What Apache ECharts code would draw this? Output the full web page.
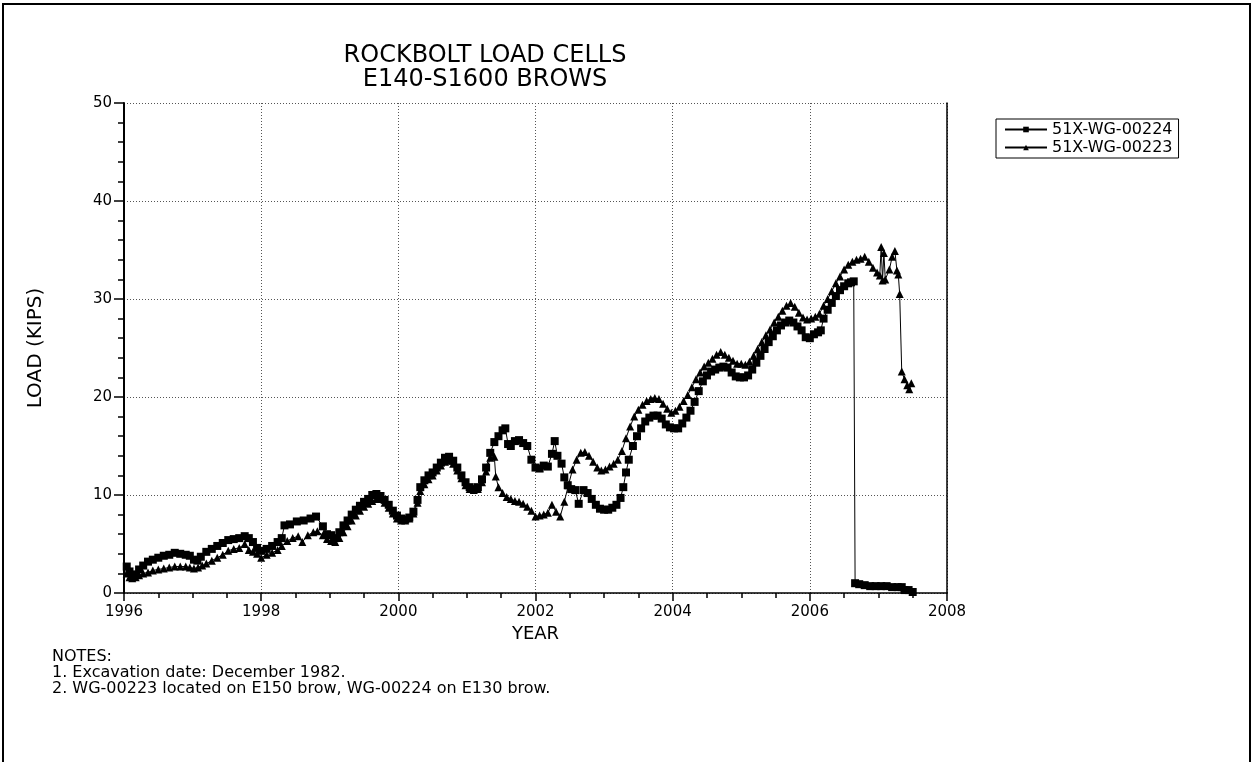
<!DOCTYPE html>
<html>
<head>
<meta charset="utf-8">
<script src="https://cdn.jsdelivr.net/npm/echarts@6/dist/echarts.min.js"></script>
<style>
  html, body { margin: 0; padding: 0; background: #fff; }
  #chart { width: 1255px; height: 762px; }
</style>
</head>
<body>
<div id="chart"></div>
<script>
// ---- Data ----
const titleLines = ["ROCKBOLT LOAD CELLS", "E140-S1600 BROWS"];
const seriesNames = ["51X-WG-00224", "51X-WG-00223"];
const xTicks = [1996, 1998, 2000, 2002, 2004, 2006, 2008];
const yTicks = [0, 10, 20, 30, 40, 50];
const notes = [
  "NOTES:",
  "1. Excavation date: December 1982.",
  "2. WG-00223 located on E150 brow, WG-00224 on E130 brow."
];

const years224 = [1996.04,1996.08,1996.12,1996.17,1996.22,1996.28,1996.35,1996.42,1996.5,1996.58,1996.66,1996.74,1996.82,1996.9,1996.96,
1997.02,1997.07,1997.12,1997.2,1997.28,1997.36,1997.44,1997.52,1997.6,1997.68,1997.76,1997.82,1997.88,1997.94,
1998.0,1998.08,1998.16,1998.24,1998.3,1998.34,1998.42,1998.52,1998.62,1998.72,1998.8,1998.9,1998.96,
1999.02,1999.08,1999.14,1999.2,1999.26,1999.32,1999.38,1999.44,1999.5,1999.56,1999.62,1999.68,1999.74,1999.8,1999.86,1999.92,1999.98,
2000.04,2000.1,2000.16,2000.22,2000.28,2000.32,2000.38,2000.44,2000.5,2000.56,2000.62,2000.68,2000.74,2000.8,2000.86,2000.92,2000.98,
2001.04,2001.1,2001.16,2001.22,2001.28,2001.34,2001.4,2001.46,2001.52,2001.56,2001.6,2001.64,2001.7,2001.76,2001.82,2001.88,2001.94,
2002.0,2002.06,2002.12,2002.18,2002.24,2002.28,2002.32,2002.38,2002.42,2002.47,2002.52,2002.58,2002.63,2002.7,2002.76,2002.82,2002.88,2002.94,
2003.0,2003.06,2003.12,2003.18,2003.24,2003.28,2003.32,2003.36,2003.42,2003.48,2003.54,2003.6,2003.66,2003.72,2003.78,2003.84,2003.9,2003.96,
2004.02,2004.08,2004.14,2004.2,2004.26,2004.32,2004.38,2004.44,2004.5,2004.56,2004.62,2004.68,2004.74,2004.8,2004.86,2004.92,2004.98,
2005.04,2005.1,2005.16,2005.22,2005.28,2005.34,2005.4,2005.46,2005.52,2005.58,2005.64,2005.7,2005.76,2005.82,2005.88,2005.94,
2006.0,2006.06,2006.12,2006.16,2006.2,2006.26,2006.32,2006.38,2006.44,2006.5,2006.56,2006.6,2006.64,
2006.66,2006.72,2006.8,2006.88,2006.96,2007.04,2007.12,2007.2,2007.28,2007.34,2007.38,2007.44,2007.5];
const load224 = [2.7,2.2,1.8,1.9,2.4,2.8,3.2,3.4,3.6,3.8,3.9,4.1,4.0,3.9,3.8,
3.4,3.3,3.7,4.2,4.5,4.8,5.1,5.4,5.5,5.6,5.8,5.6,5.2,4.6,
4.3,4.5,4.8,5.2,5.6,6.9,7.0,7.3,7.4,7.6,7.8,6.8,6.0,
5.9,5.6,6.2,6.9,7.4,8.0,8.5,8.9,9.3,9.6,10.0,10.1,9.9,9.5,9.0,8.4,7.9,
7.6,7.5,7.7,8.3,9.5,10.8,11.5,12.0,12.3,12.8,13.3,13.8,13.9,13.5,12.8,12.0,11.3,
10.8,10.6,10.8,11.6,12.8,14.3,15.4,16.0,16.6,16.8,15.2,15.0,15.5,15.6,15.3,15.0,13.6,
12.8,12.7,13.0,12.9,14.2,15.5,14.0,13.2,11.8,11.0,10.6,10.5,9.1,10.5,10.2,9.6,9.0,8.6,
8.5,8.5,8.7,9.0,9.7,10.8,12.3,13.6,15.0,16.0,16.8,17.5,17.9,18.1,18.1,17.8,17.2,16.9,
16.8,16.8,17.3,17.9,18.6,19.5,20.6,21.6,22.2,22.6,22.8,23.0,23.1,23.0,22.5,22.1,22.0,
22.0,22.2,22.8,23.5,24.2,24.9,25.6,26.2,26.8,27.3,27.6,27.8,27.6,27.2,26.8,26.1,
26.0,26.4,26.6,26.8,28.0,28.9,29.6,30.3,30.9,31.3,31.6,31.7,31.8,
1.0,0.9,0.8,0.7,0.7,0.7,0.7,0.6,0.6,0.6,0.3,0.3,0.1];

const years223 = [1996.04,1996.08,1996.12,1996.17,1996.22,1996.28,1996.35,1996.42,1996.5,1996.58,1996.66,1996.74,1996.82,1996.9,1996.96,
1997.02,1997.08,1997.14,1997.2,1997.28,1997.36,1997.44,1997.52,1997.6,1997.68,1997.76,1997.82,1997.88,1997.94,
1998.0,1998.08,1998.16,1998.24,1998.3,1998.38,1998.46,1998.54,1998.6,1998.68,1998.76,1998.82,1998.9,1998.96,
1999.02,1999.08,1999.14,1999.2,1999.26,1999.32,1999.38,1999.44,1999.5,1999.56,1999.62,1999.68,1999.74,1999.8,1999.86,1999.92,1999.98,
2000.04,2000.1,2000.16,2000.22,2000.28,2000.32,2000.38,2000.44,2000.5,2000.56,2000.62,2000.68,2000.74,2000.8,2000.86,2000.92,2000.98,
2001.04,2001.1,2001.16,2001.22,2001.28,2001.34,2001.4,2001.42,2001.46,2001.52,2001.58,2001.64,2001.7,2001.76,2001.82,2001.88,2001.94,
2002.0,2002.06,2002.12,2002.18,2002.24,2002.3,2002.36,2002.42,2002.48,2002.54,2002.6,2002.66,2002.72,2002.78,2002.84,2002.9,2002.96,
2003.02,2003.08,2003.14,2003.2,2003.26,2003.32,2003.38,2003.44,2003.5,2003.56,2003.62,2003.68,2003.74,2003.8,2003.86,2003.92,2003.98,
2004.04,2004.1,2004.16,2004.22,2004.28,2004.34,2004.4,2004.46,2004.52,2004.58,2004.64,2004.7,2004.76,2004.82,2004.88,2004.94,
2005.0,2005.06,2005.12,2005.18,2005.24,2005.3,2005.36,2005.42,2005.48,2005.54,2005.6,2005.66,2005.72,2005.78,2005.84,2005.9,2005.96,
2006.02,2006.08,2006.14,2006.2,2006.26,2006.32,2006.38,2006.44,2006.5,2006.56,2006.62,2006.68,2006.74,2006.8,2006.86,2006.92,2006.98,
2007.02,2007.04,2007.06,2007.08,2007.1,2007.16,2007.2,2007.24,2007.27,2007.29,2007.31,2007.34,2007.38,2007.42,2007.45,2007.48];
const load223 = [2.0,1.6,1.5,1.6,1.8,2.0,2.1,2.3,2.4,2.5,2.6,2.7,2.7,2.7,2.6,
2.5,2.6,2.8,3.0,3.3,3.6,3.9,4.3,4.5,4.6,5.0,4.4,4.2,4.0,
3.6,3.9,4.1,4.4,4.8,5.3,5.6,5.8,5.2,5.9,6.2,6.3,5.9,5.5,
5.3,5.2,5.6,6.2,6.8,7.4,7.9,8.4,8.8,9.1,9.4,9.6,9.6,9.2,8.7,8.1,7.6,
7.4,7.4,7.6,8.1,9.2,10.4,11.1,11.6,12.0,12.5,13.0,13.4,13.5,13.2,12.5,11.7,11.0,
10.6,10.5,10.6,11.3,12.4,13.8,13.9,11.9,10.8,10.2,9.8,9.6,9.4,9.3,9.1,8.8,8.4,
7.8,7.9,8.0,8.2,9.0,8.3,7.8,9.3,11.0,12.6,13.6,14.3,14.4,14.0,13.4,12.8,12.5,
12.6,12.9,13.2,13.6,14.5,15.8,17.0,18.0,18.7,19.2,19.6,19.8,19.9,19.8,19.3,18.8,18.4,
18.6,19.0,19.6,20.2,21.0,21.8,22.5,23.1,23.5,23.9,24.3,24.6,24.3,24.0,23.7,23.4,
23.4,23.3,23.6,24.2,24.9,25.6,26.3,26.9,27.6,28.2,28.8,29.3,29.6,29.2,28.6,28.1,27.9,
28.0,28.2,28.5,29.3,30.0,30.8,31.6,32.3,33.0,33.5,33.8,34.0,34.1,34.3,33.8,33.2,32.7,
32.4,35.3,31.9,34.7,32.0,33.0,34.3,34.9,32.9,32.5,30.5,22.6,21.8,21.2,20.8,21.4];

// ---- Build series data ----
const data224 = years224.map((x, i) => [x, load224[i]]);
const data223 = years223.map((x, i) => [x, load223[i]]);

const FONT = "DejaVu Sans";
const chart = echarts.init(document.getElementById('chart'), null, { renderer: 'canvas' });

const option = {
  animation: false,
  backgroundColor: '#ffffff',
  textStyle: { fontFamily: FONT, color: '#000' },
  title: {
    text: titleLines.join('\n'),
    left: 480,
    top: 39,
    textAlign: 'center',
    textStyle: { fontFamily: FONT, fontSize: 24, fontWeight: 'normal', color: '#000', lineHeight: 24 }
  },
  legend: {
    orient: 'vertical',
    left: 996,
    top: 119,
    data: seriesNames,
    borderColor: '#000',
    borderWidth: 1,
    borderRadius: 0,
    padding: [2, 6, 2, 8],
    itemGap: 1,
    itemWidth: 42,
    itemHeight: 7,
    textStyle: { fontFamily: FONT, fontSize: 16, color: '#000', lineHeight: 17 }
  },
  grid: {
    left: 124, right: 308, top: 103, bottom: 169,
    containLabel: false,
    outerBoundsMode: 'none'
  },
  xAxis: {
    type: 'value',
    min: xTicks[0], max: xTicks[xTicks.length - 1], interval: 2,
    name: 'YEAR',
    nameLocation: 'middle',
    nameGap: 31,
    nameTextStyle: { fontFamily: FONT, fontSize: 18, color: '#000' },
    axisLine: { show: true, onZero: false, lineStyle: { color: '#000', width: 1.5 } },
    axisTick: { show: true, inside: false, length: 8, lineStyle: { color: '#000', width: 1.5 } },
    minorTick: { show: true, splitNumber: 4, length: 5, lineStyle: { color: '#000', width: 1.5 } },
    axisLabel: { fontFamily: FONT, fontSize: 15, color: '#000', margin: 12, formatter: v => String(v) },
    splitLine: { show: true, lineStyle: { color: '#555', type: [1, 2], width: 1 } }
  },
  yAxis: [{
    type: 'value',
    min: yTicks[0], max: yTicks[yTicks.length - 1], interval: 10,
    name: 'LOAD (KIPS)',
    nameLocation: 'middle',
    nameGap: 78,
    nameRotate: 90,
    nameTextStyle: { fontFamily: FONT, fontSize: 20, color: '#000' },
    axisLine: { show: true, lineStyle: { color: '#000', width: 2 } },
    axisTick: { show: true, inside: false, length: 10, lineStyle: { color: '#000', width: 1.5 } },
    minorTick: { show: true, splitNumber: 5, length: 6, lineStyle: { color: '#000', width: 1.5 } },
    axisLabel: { fontFamily: FONT, fontSize: 15, color: '#000', margin: 12 },
    splitLine: { show: true, lineStyle: { color: '#555', type: [1, 2], width: 1 } }
  }, {
    type: 'value', position: 'right',
    min: yTicks[0], max: yTicks[yTicks.length - 1], interval: 10,
    axisLine: { show: true, lineStyle: { color: '#000', width: 1.5 } },
    axisTick: { show: false }, axisLabel: { show: false }, splitLine: { show: false }
  }],
  graphic: [
    { type: 'rect', shape: { x: 3, y: 4, width: 1247, height: 800 }, style: { fill: 'none', stroke: '#000', lineWidth: 2 }, silent: true },
    { type: 'text', left: 52, top: 649, style: { text: notes[0], font: '16px "DejaVu Sans"', fill: '#000' } },
    { type: 'text', left: 52, top: 665, style: { text: notes[1], font: '16px "DejaVu Sans"', fill: '#000' } },
    { type: 'text', left: 52, top: 681, style: { text: notes[2], font: '16px "DejaVu Sans"', fill: '#000' } }
  ],
  series: [
    {
      name: seriesNames[0], type: 'line', data: data224,
      symbol: 'rect', symbolSize: 8, showAllSymbol: true,
      itemStyle: { color: '#000' },
      lineStyle: { color: '#000', width: 1 }
    },
    {
      name: seriesNames[1], type: 'line', data: data223,
      symbol: 'triangle', symbolSize: 8, showAllSymbol: true,
      itemStyle: { color: '#000' },
      lineStyle: { color: '#000', width: 1 }
    }
  ]
};
chart.setOption(option);
</script>
</body>
</html>
